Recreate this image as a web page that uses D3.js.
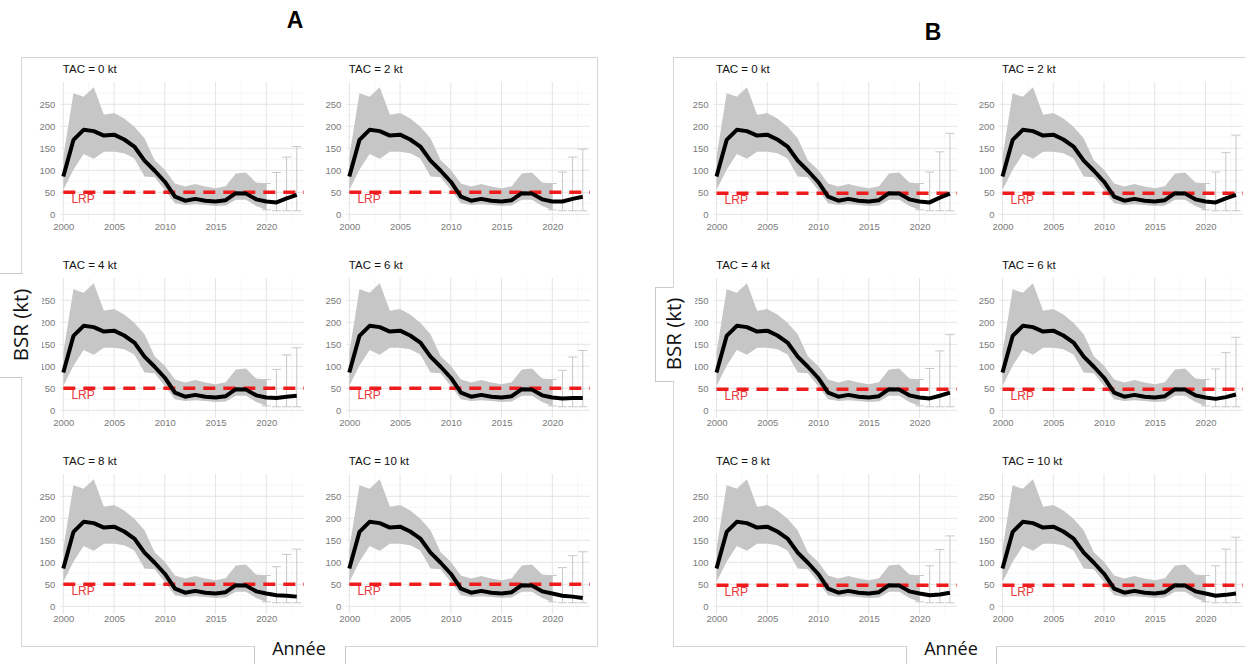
<!DOCTYPE html>
<html><head><meta charset="utf-8">
<script src="https://cdn.jsdelivr.net/npm/d3@7"></script>
<style>body{margin:0;background:#fff}svg{display:block}</style>
</head><body>
<svg id="c" width="1246" height="664"></svg>
<script>
// ---- data ----
const panelLetters = ["A", "B"];
const tacLabels = ["TAC = 0 kt", "TAC = 2 kt", "TAC = 4 kt", "TAC = 6 kt", "TAC = 8 kt", "TAC = 10 kt"];
const histYears = [2000,2001,2002,2003,2004,2005,2006,2007,2008,2009,2010,2011,2012,2013,2014,2015,2016,2017,2018,2019,2020];
const bsrMedian = [86,169,192,189,179,181,170,154,122,99,74,40,31,35,31,29,32,48,47,34,29];
const bsrUpper  = [131,275,267,289,226,230,218,199,173,123,101,70,63,69,63,59,64,93,95,72,70];
const bsrLower  = [55,101,137,126,142,142,139,127,86,84,55,25,21,23,21,19,20,33,33,19,10];
const projYears = [2020,2021,2022,2023];
// projected median (continues from 2020), per TAC panel
const projMedianA = [[29,27,36,44],[29,29,35,40],[29,28,31,33],[29,27,28,28],[29,25,24,22],[29,24,22,19]];
const projUpperA  = [[70,95,130,154],[70,96,130,148],[70,93,126,142],[70,91,121,136],[70,90,118,130],[70,88,115,124]];
const projMedianB = [[29,27,38,47],[29,27,36,44],[29,27,33,40],[29,26,30,36],[29,25,27,31],[29,24,26,29]];
const projUpperB  = [[70,96,142,184],[70,96,140,180],[70,95,135,172],[70,94,131,166],[70,92,129,160],[70,92,130,157]];
const projLower   = [10,8,8,8];
const lrpValues = [50, 48];
const xTicks = [2000,2005,2010,2015,2020];
const xMinor = [2002.5,2007.5,2012.5,2017.5,2022.5];
const yTicks = [0,50,100,150,200,250];
const yMinor = [25,75,125,175,225,275];
const axisTitles = {x: "Année", y: "BSR (kt)"};

// ---- drawing ----
const svg = d3.select("#c");
const frames = [{x:21, w:576}, {x:673, w:590}];
const panelOrigin = [0, 653.2];
const letterPos = [{x:295, y:28}, {x:933, y:40}];
const ylabPos = [{x0:-5, x:22, y1:273, y2:377, tx:28}, {x0:655, x:673, y1:287, y2:381, tx:681}];
const xlabPos = [{x1:254, x2:345, cx:299}, {x1:906, x2:996, cx:951}];
const FONT = "Liberation Sans, Arial, sans-serif";

panelLetters.forEach((L, p) => {
  const f = frames[p];
  svg.append("rect").attr("x", f.x + 0.5).attr("y", 57.5).attr("width", f.w).attr("height", 589)
    .attr("fill", "none").attr("stroke", "#d4d4d4").attr("stroke-width", 1);
  svg.append("text").attr("x", letterPos[p].x).attr("y", letterPos[p].y).attr("text-anchor", "middle")
    .attr("font-family", FONT).attr("font-weight", "bold").attr("font-size", 23)
    .attr("fill", "#000").text(L);

  const projMed = p === 0 ? projMedianA : projMedianB;
  const projUp = p === 0 ? projUpperA : projUpperB;

  tacLabels.forEach((lab, i) => {
    const c = i % 2, r = Math.floor(i / 2);
    const ox = 63.3 + panelOrigin[p] + 286 * c;
    const oy = 214.3 + 196 * r;
    const x = d3.scaleLinear().domain([2000, 2020]).range([ox, ox + 203]);
    const y = d3.scaleLinear().domain([0, 250]).range([oy, oy - 110]);
    const g = svg.append("g");
    const xL = 1999.7, xR = 2023.7, yB = -17, yT = 301;
    // grid
    g.selectAll(".vmin").data(xMinor).join("line")
      .attr("x1", d => x(d)).attr("x2", d => x(d)).attr("y1", y(yB)).attr("y2", y(yT))
      .attr("stroke", "#f2f2f2").attr("stroke-width", 0.7);
    g.selectAll(".hmin").data(yMinor).join("line")
      .attr("x1", x(xL)).attr("x2", x(xR)).attr("y1", d => y(d)).attr("y2", d => y(d))
      .attr("stroke", "#f2f2f2").attr("stroke-width", 0.7);
    g.selectAll(".vmaj").data(xTicks).join("line")
      .attr("x1", d => x(d)).attr("x2", d => x(d)).attr("y1", y(yB)).attr("y2", y(yT))
      .attr("stroke", "#e4e4e4").attr("stroke-width", 1);
    g.selectAll(".hmaj").data(yTicks).join("line")
      .attr("x1", x(xL)).attr("x2", x(xR)).attr("y1", d => y(d)).attr("y2", d => y(d))
      .attr("stroke", "#e4e4e4").attr("stroke-width", 1);
    // band
    const area = d3.area().x((d, k) => x(histYears[k])).y0((d, k) => y(bsrLower[k])).y1(d => y(d));
    g.append("path").datum(bsrUpper).attr("d", area).attr("fill", "#c6c6c6");
    // error bars
    projYears.forEach((yr, k) => {
      const up = projUp[i][k], lo = projLower[k];
      g.append("line").attr("x1", x(yr)).attr("x2", x(yr)).attr("y1", y(lo)).attr("y2", y(up))
        .attr("stroke", "#c8c8c8").attr("stroke-width", 1);
      [up, lo].forEach(v => g.append("line").attr("x1", x(yr) - 4.5).attr("x2", x(yr) + 4.5)
        .attr("y1", y(v)).attr("y2", y(v)).attr("stroke", "#c8c8c8").attr("stroke-width", 1));
    });
    // LRP
    g.append("line").attr("x1", x(2000)).attr("x2", x(2023.7)).attr("y1", y(lrpValues[p])).attr("y2", y(lrpValues[p]))
      .attr("stroke", "#ee1c1c").attr("stroke-width", 3.5).attr("stroke-dasharray", "12,8");
    g.append("text").attr("x", x(2000.8)).attr("y", y(lrpValues[p]) + 11)
      .attr("font-family", FONT).attr("font-size", 12).attr("fill", "#e83a3a").text("LRP");
    // median line
    const allYears = histYears.concat(projYears.slice(1));
    const allVals = bsrMedian.concat(projMed[i].slice(1));
    const line = d3.line().x((d, k) => x(allYears[k])).y(d => y(d)).curve(d3.curveLinear);
    g.append("path").datum(allVals).attr("d", line).attr("fill", "none")
      .attr("stroke", "#000").attr("stroke-width", 4).attr("stroke-linejoin", "round");
    // axes labels
    const xa = d3.axisBottom(x).tickValues(xTicks).tickFormat(d3.format("d")).tickSize(0).tickPadding(0);
    const gx = g.append("g").attr("transform", `translate(0,${oy + 9})`).call(xa);
    gx.select(".domain").remove();
    gx.selectAll("text").attr("font-family", FONT).attr("font-size", 9.5).attr("fill", "#7a7a7a").attr("dy", "0.71em");
    const ya = d3.axisLeft(y).tickValues(yTicks).tickSize(0).tickPadding(0);
    const gy = g.append("g").attr("transform", `translate(${ox - 8},0)`).call(ya);
    gy.select(".domain").remove();
    gy.selectAll("text").attr("font-family", FONT).attr("font-size", 9.5).attr("fill", "#7a7a7a");
    // title
    g.append("text").attr("x", ox - 0.5).attr("y", oy - 141.5)
      .attr("font-family", FONT).attr("font-size", 11.5).attr("fill", "#111").text(lab);
  });

  // y axis title box
  const yl = ylabPos[p];
  svg.append("rect").attr("x", yl.x0).attr("y", yl.y1).attr("width", yl.tx + 14 - yl.x0).attr("height", yl.y2 - yl.y1).attr("fill", "#fff");
  svg.append("line").attr("x1", yl.x0).attr("x2", yl.x + 0.5).attr("y1", yl.y1 + 0.5).attr("y2", yl.y1 + 0.5).attr("stroke", "#c8c8c8");
  svg.append("line").attr("x1", yl.x0).attr("x2", yl.x + 0.5).attr("y1", yl.y2 + 0.5).attr("y2", yl.y2 + 0.5).attr("stroke", "#c8c8c8");
  if (p === 1) {
    svg.append("line").attr("x1", yl.x0 + 0.5).attr("x2", yl.x0 + 0.5).attr("y1", yl.y1).attr("y2", yl.y2 + 1).attr("stroke", "#c8c8c8");
  }
  svg.append("text").attr("transform", `translate(${yl.tx},${(yl.y1 + yl.y2) / 2}) rotate(-90)`)
    .attr("text-anchor", "middle").attr("font-family", "Open Sans, sans-serif").attr("font-size", 20.5).attr("fill", "#111")
    .text(axisTitles.y);
  // x axis title box
  const xl = xlabPos[p];
  svg.append("rect").attr("x", xl.x1).attr("y", 630).attr("width", xl.x2 - xl.x1).attr("height", 40).attr("fill", "#fff");
  svg.append("line").attr("x1", xl.x1 + 0.5).attr("x2", xl.x1 + 0.5).attr("y1", 646).attr("y2", 664).attr("stroke", "#c8c8c8");
  svg.append("line").attr("x1", xl.x2 + 0.5).attr("x2", xl.x2 + 0.5).attr("y1", 646).attr("y2", 664).attr("stroke", "#c8c8c8");
  svg.append("text").attr("x", xl.cx).attr("y", 655).attr("text-anchor", "middle")
    .attr("font-family", "Open Sans, sans-serif").attr("font-size", 18).attr("fill", "#111").text(axisTitles.x);
});
</script>
</body></html>
